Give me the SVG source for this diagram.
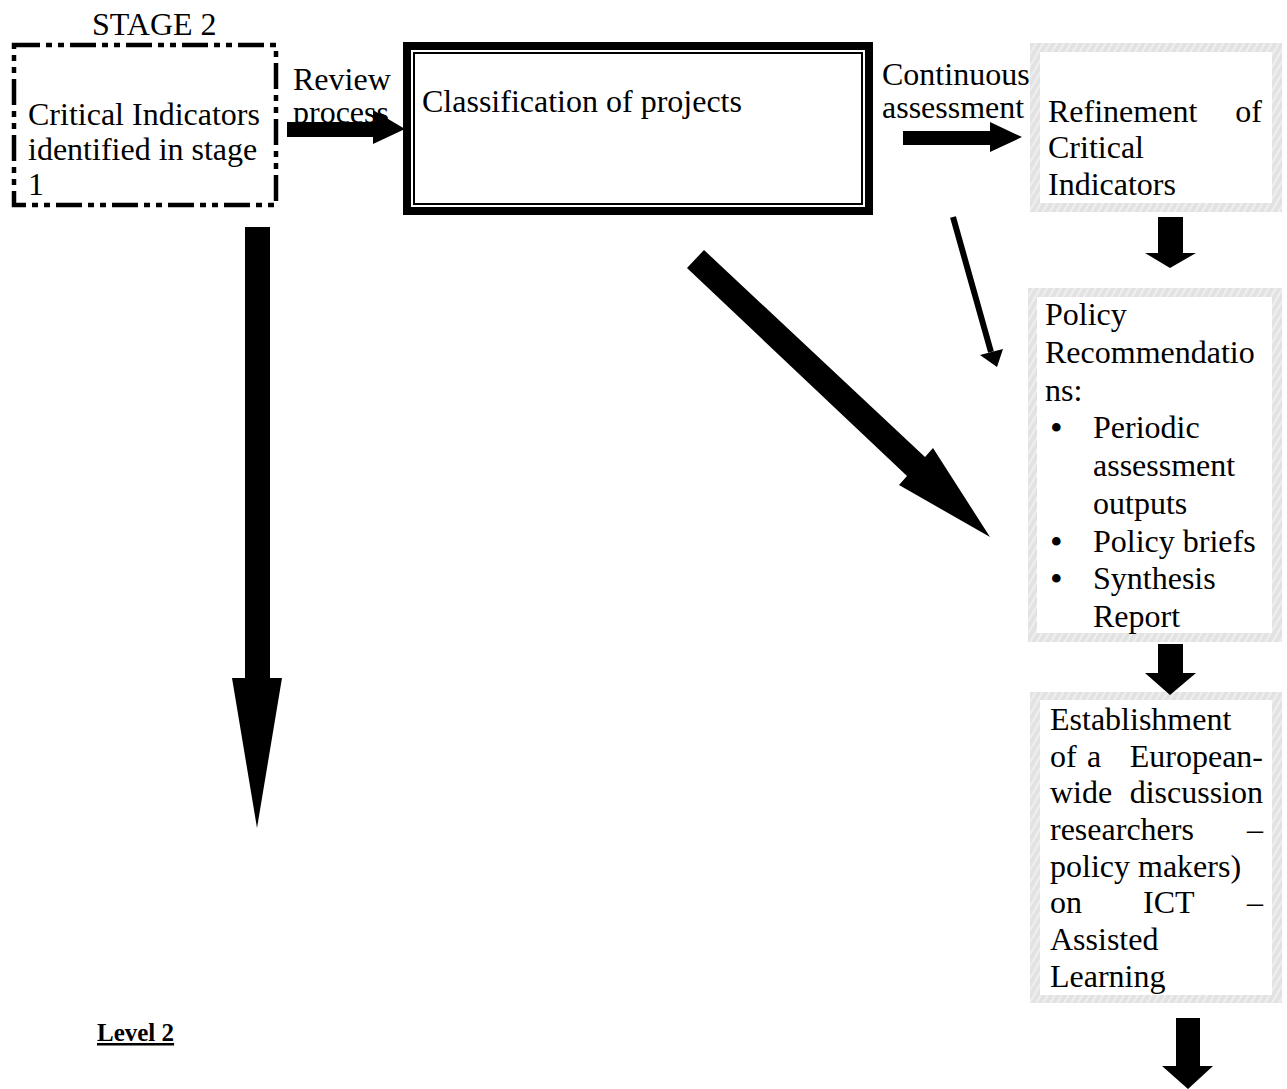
<svg xmlns="http://www.w3.org/2000/svg" width="1287" height="1089" viewBox="0 0 1287 1089">
<defs>
<pattern id="hatch" patternUnits="userSpaceOnUse" width="6" height="6" patternTransform="rotate(30)">
<rect width="6" height="6" fill="#e2e2e2"/>
<line x1="1" y1="0" x2="1" y2="6" stroke="#ffffff" stroke-width="0.9"/>
</pattern>
<style>
text{font-family:"Liberation Serif","Times New Roman",serif;font-size:32px;fill:#000}
.end{text-anchor:end}
.bul{font-size:36px}
.hb{fill:url(#hatch)}
.inner{fill:#fff}
.arrow{fill:#000;stroke:none}
</style>
</defs>
<rect width="1287" height="1089" fill="#fff"/>

<g id="stage-label">
<text x="92" y="35">STAGE 2</text>
</g>

<g id="node-critical">
<rect x="14" y="45" width="262" height="160" fill="none" stroke="#000" stroke-width="4.5" stroke-dasharray="26 6 6 6 6 6"/>
<text x="28" y="125">Critical Indicators</text>
<text x="28" y="160">identified in stage</text>
<text x="28" y="195">1</text>
</g>

<g id="node-classification">
<rect x="403" y="42" width="470" height="173" fill="#000"/>
<rect x="411" y="50" width="454" height="157" fill="#fff"/>
<rect x="414" y="53" width="448" height="151" fill="none" stroke="#000" stroke-width="2"/>
<text x="422" y="112">Classification of projects</text>
</g>

<g id="node-refinement">
<rect class="hb" x="1030" y="43" width="252" height="169"/>
<rect class="inner" x="1040" y="52" width="232" height="151"/>
<text x="1048" y="122">Refinement</text>
<text class="end" x="1262" y="122">of</text>
<text x="1048" y="158">Critical</text>
<text x="1048" y="195">Indicators</text>
</g>

<g id="node-policy">
<rect class="hb" x="1028" y="288" width="254" height="354"/>
<rect class="inner" x="1037" y="297" width="235" height="336"/>
<text x="1045" y="325">Policy</text>
<text x="1045" y="363">Recommendatio</text>
<text x="1045" y="401">ns:</text>
<text class="bul" x="1050" y="440">•</text>
<text x="1093" y="438">Periodic</text>
<text x="1093" y="476">assessment</text>
<text x="1093" y="514">outputs</text>
<text class="bul" x="1050" y="554">•</text>
<text x="1093" y="552">Policy briefs</text>
<text class="bul" x="1050" y="591">•</text>
<text x="1093" y="589">Synthesis</text>
<text x="1093" y="627">Report</text>
</g>

<g id="node-establishment">
<rect class="hb" x="1030" y="692" width="252" height="311"/>
<rect class="inner" x="1040" y="700" width="232" height="295"/>
<text x="1050" y="730">Establishment</text>
<text x="1050" y="767">of</text>
<text x="1087" y="767">a</text>
<text class="end" x="1263" y="767">European-</text>
<text x="1050" y="803">wide</text>
<text class="end" x="1263" y="803">discussion</text>
<text x="1050" y="840">researchers</text>
<text class="end" x="1263" y="840">–</text>
<text x="1050" y="877">policy makers)</text>
<text x="1050" y="913">on</text>
<text x="1143" y="913">ICT</text>
<text class="end" x="1263" y="913">–</text>
<text x="1050" y="950">Assisted</text>
<text x="1050" y="987">Learning</text>
</g>

<g id="level-label">
<text x="97" y="1041" style="font-size:25px;font-weight:bold" text-decoration="underline">Level 2</text>
</g>

<g id="connectors">
<g id="label-review">
<text x="293" y="90">Review</text>
<text x="293" y="123">process</text>
</g>
<g id="label-continuous">
<text x="882" y="85">Continuous</text>
<text x="882" y="118">assessment</text>
</g>
<polygon class="arrow" points="287,122 373,122 373,110 405,129 373,144 373,137 287,137"/>
<polygon class="arrow" points="903,131 990,131 990,122 1022,137 990,152 990,145 903,145"/>
<polygon class="arrow" points="1158,217 1183,217 1183,253 1196,253 1170,268 1145,253 1158,253"/>
<polygon class="arrow" points="1158,644 1183,644 1183,673 1196,673 1170,695 1145,673 1158,673"/>
<polygon class="arrow" points="1176,1018 1200,1018 1200,1066 1213,1066 1188,1089 1162,1066 1176,1066"/>
<polygon class="arrow" points="245,227 270,227 270,678 282,678 257,828 232,678 245,678"/>
<polygon class="arrow" points="687,268 704,250 925,457 933,448 990,537 899,485 907,476"/>
<line x1="953" y1="217" x2="991" y2="352" stroke="#000" stroke-width="6"/>
<polygon class="arrow" points="980,355 1003,349 997,367"/>
</g>
</svg>
